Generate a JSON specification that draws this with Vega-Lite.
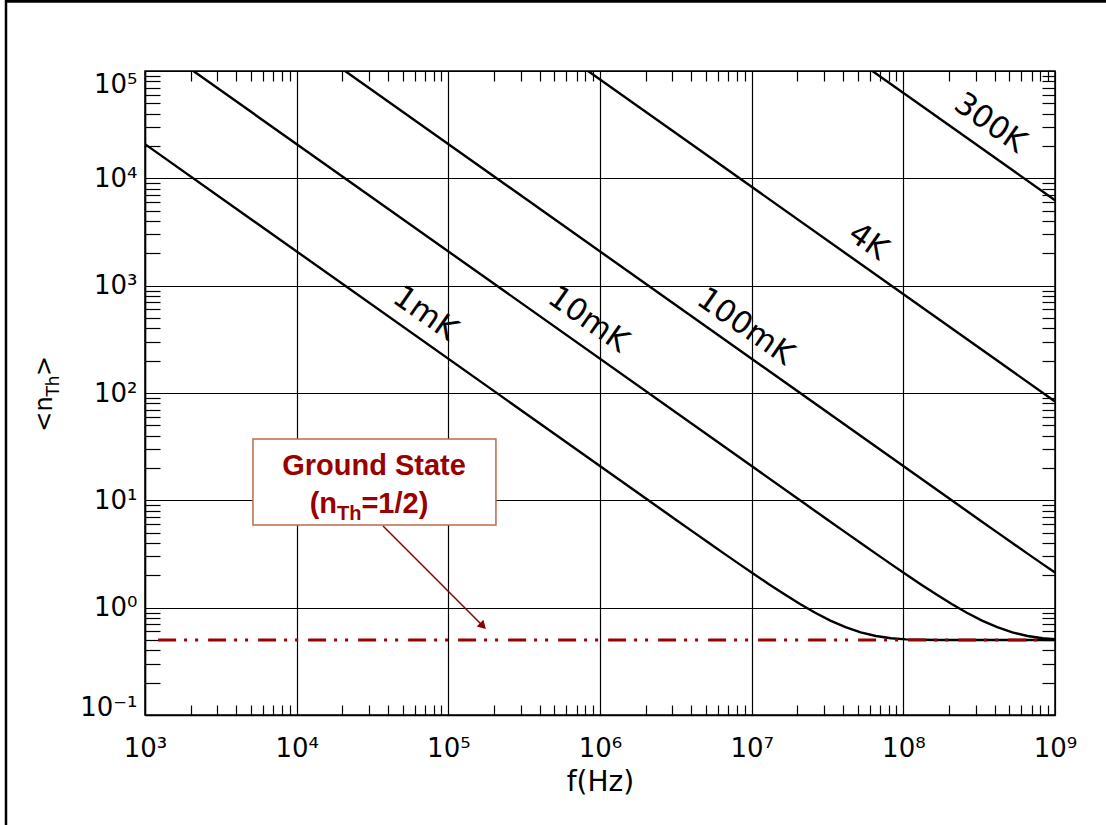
{
 "$schema": "https://vega.github.io/schema/vega-lite/v6.json",
 "width": 910,
 "height": 644,
 "autosize": {"type": "none"},
 "padding": {"left": 145, "top": 71, "right": 51, "bottom": 110},
 "background": "white",
 "config": {
  "view": {"stroke": "black", "strokeWidth": 1.5},
  "axis": {"domainColor": "black", "domainWidth": 1.5, "tickColor": "black", "tickWidth": 1.2, "gridColor": "black", "gridWidth": 1.2, "gridOpacity": 1, "labelColor": "black", "labelFont": "DejaVu Sans", "labelFontSize": 26, "labelFontWeight": "normal", "titleColor": "black", "titleFont": "DejaVu Sans", "titleFontWeight": "normal"}
 },
 "datasets": {
  "curves": [
   {"T": "1mK", "f": 1000, "n": 20837},
   {"T": "1mK", "f": 2083700, "n": 10.008},
   {"T": "1mK", "f": 2623200, "n": 7.954},
   {"T": "1mK", "f": 3302400, "n": 6.323},
   {"T": "1mK", "f": 4157500, "n": 5.0285},
   {"T": "1mK", "f": 5234000, "n": 4.002},
   {"T": "1mK", "f": 6589200, "n": 3.1886},
   {"T": "1mK", "f": 8295300, "n": 2.545},
   {"T": "1mK", "f": 10443200, "n": 2.0369},
   {"T": "1mK", "f": 13147200, "n": 1.6371},
   {"T": "1mK", "f": 16551400, "n": 1.3244},
   {"T": "1mK", "f": 20837000, "n": 1.082},
   {"T": "1mK", "f": 26232200, "n": 0.8966},
   {"T": "1mK", "f": 33024500, "n": 0.7578},
   {"T": "1mK", "f": 41575300, "n": 0.6574},
   {"T": "1mK", "f": 52340200, "n": 0.5883},
   {"T": "1mK", "f": 65892400, "n": 0.5442},
   {"T": "1mK", "f": 82953600, "n": 0.519},
   {"T": "1mK", "f": 104432000, "n": 0.5067},
   {"T": "1mK", "f": 131472000, "n": 0.5018},
   {"T": "1mK", "f": 165514000, "n": 0.5004},
   {"T": "1mK", "f": 208370000, "n": 0.50005},
   {"T": "1mK", "f": 1000000000, "n": 0.5},
   {"T": "10mK", "f": 1000, "n": 208370},
   {"T": "10mK", "f": 20837000, "n": 10.008},
   {"T": "10mK", "f": 26232000, "n": 7.954},
   {"T": "10mK", "f": 33024000, "n": 6.323},
   {"T": "10mK", "f": 41575000, "n": 5.0285},
   {"T": "10mK", "f": 52340000, "n": 4.002},
   {"T": "10mK", "f": 65892000, "n": 3.1886},
   {"T": "10mK", "f": 82953000, "n": 2.545},
   {"T": "10mK", "f": 104432000, "n": 2.0369},
   {"T": "10mK", "f": 131472000, "n": 1.6371},
   {"T": "10mK", "f": 165514000, "n": 1.3244},
   {"T": "10mK", "f": 208370000, "n": 1.082},
   {"T": "10mK", "f": 262322000, "n": 0.8966},
   {"T": "10mK", "f": 330245000, "n": 0.7578},
   {"T": "10mK", "f": 415753000, "n": 0.6574},
   {"T": "10mK", "f": 523402000, "n": 0.5883},
   {"T": "10mK", "f": 658924000, "n": 0.5442},
   {"T": "10mK", "f": 829536000, "n": 0.519},
   {"T": "10mK", "f": 1000000000, "n": 0.5083},
   {"T": "100mK", "f": 1000, "n": 2083700},
   {"T": "100mK", "f": 208370000, "n": 10.008},
   {"T": "100mK", "f": 262320000, "n": 7.954},
   {"T": "100mK", "f": 330240000, "n": 6.323},
   {"T": "100mK", "f": 415750000, "n": 5.0285},
   {"T": "100mK", "f": 523400000, "n": 4.002},
   {"T": "100mK", "f": 658920000, "n": 3.1886},
   {"T": "100mK", "f": 829530000, "n": 2.545},
   {"T": "100mK", "f": 1000000000, "n": 2.1237},
   {"T": "4K", "f": 1000, "n": 83348000},
   {"T": "4K", "f": 1000000000, "n": 83.35},
   {"T": "300K", "f": 1000, "n": 6251100000},
   {"T": "300K", "f": 1000000000, "n": 6251.1}
  ],
  "labels": [
   {"label": "1mK", "f": 70200, "n": 544},
   {"label": "10mK", "f": 834000, "n": 479},
   {"label": "100mK", "f": 9040000, "n": 412},
   {"label": "4K", "f": 58500000, "n": 2552},
   {"label": "300K", "f": 372000000, "n": 32400}
  ],
  "ground": [
   {"f": 1220, "n": 0.5},
   {"f": 830000000, "n": 0.5}
  ]
 },
 "resolve": {"axis": {"x": "independent", "y": "independent"}},
 "layer": [
  {
   "data": {"name": "curves"},
   "mark": {"type": "line", "clip": true, "color": "black", "strokeWidth": 2.4},
   "encoding": {
    "x": {"field": "f", "type": "quantitative", "scale": {"type": "log", "domain": [1000, 1000000000]},
     "axis": {"orient": "bottom", "values": [1000, 10000, 100000, 1000000, 10000000, 100000000, 1000000000], "grid": true, "ticks": false, "domain": true,
      "labelExpr": "'10' + (datum.value < 0.5 ? '⁻¹' : substring('⁰¹²³⁴⁵⁶⁷⁸⁹', round(log(datum.value)/LN10), round(log(datum.value)/LN10)+1))",
      "labelPadding": 20, "labelFlush": false, "labelOverlap": false, "labelBaseline": "top", "labelAlign": "center",
      "title": "f(Hz)", "titleFontSize": 28, "titlePadding": 7}},
    "y": {"field": "n", "type": "quantitative", "scale": {"type": "log", "domain": [0.1, 100000]},
     "axis": {"orient": "left", "values": [0.1, 1, 10, 100, 1000, 10000, 100000], "grid": true, "ticks": false, "domain": true,
      "labelExpr": "'10' + (datum.value < 0.5 ? '⁻¹' : substring('⁰¹²³⁴⁵⁶⁷⁸⁹', round(log(datum.value)/LN10), round(log(datum.value)/LN10)+1))",
      "labelPadding": 8, "labelFlush": false, "labelOverlap": false, "labelAlign": "right",
      "labelBaseline": {"condition": [{"test": "datum.value > 50000", "value": "top"}, {"test": "datum.value < 0.5", "value": "alphabetic"}], "value": "middle"},
      "title": null}},
    "detail": {"field": "T"}
   }
  },
  {
   "data": {"name": "ground"},
   "mark": {"type": "line", "color": "#990000", "strokeWidth": 3, "strokeDash": [18, 8, 3, 8, 3, 10]},
   "encoding": {
    "x": {"field": "f", "type": "quantitative", "scale": {"type": "log", "domain": [1000, 1000000000]},
     "axis": {"orient": "bottom", "values": [2e3,3e3,4e3,5e3,6e3,7e3,8e3,9e3,2e4,3e4,4e4,5e4,6e4,7e4,8e4,9e4,2e5,3e5,4e5,5e5,6e5,7e5,8e5,9e5,2e6,3e6,4e6,5e6,6e6,7e6,8e6,9e6,2e7,3e7,4e7,5e7,6e7,7e7,8e7,9e7,2e8,3e8,4e8,5e8,6e8,7e8,8e8,9e8], "labels": false, "grid": false, "domain": false, "ticks": true, "tickSize": -10, "title": null}},
    "y": {"field": "n", "type": "quantitative", "scale": {"type": "log", "domain": [0.1, 100000]},
     "axis": {"orient": "left", "values": [0.2,0.3,0.4,0.5,0.6,0.7,0.8,0.9,2,3,4,5,6,7,8,9,20,30,40,50,60,70,80,90,200,300,400,500,600,700,800,900,2000,3000,4000,5000,6000,7000,8000,9000,20000,30000,40000,50000,60000,70000,80000,90000], "labels": false, "grid": false, "domain": false, "ticks": true, "tickSize": -15, "title": null}}
   }
  },
  {
   "data": {"name": "labels"},
   "mark": {"type": "text", "angle": 35, "font": "DejaVu Sans", "fontWeight": "normal", "fontSize": 31, "align": "center", "baseline": "middle", "color": "black"},
   "encoding": {
    "x": {"field": "f", "type": "quantitative", "scale": {"type": "log", "domain": [1000, 1000000000]},
     "axis": {"orient": "top", "values": [2e3,3e3,4e3,5e3,6e3,7e3,8e3,9e3,2e4,3e4,4e4,5e4,6e4,7e4,8e4,9e4,2e5,3e5,4e5,5e5,6e5,7e5,8e5,9e5,2e6,3e6,4e6,5e6,6e6,7e6,8e6,9e6,2e7,3e7,4e7,5e7,6e7,7e7,8e7,9e7,2e8,3e8,4e8,5e8,6e8,7e8,8e8,9e8], "labels": false, "grid": false, "domain": false, "ticks": true, "tickSize": -10, "title": null}},
    "y": {"field": "n", "type": "quantitative", "scale": {"type": "log", "domain": [0.1, 100000]},
     "axis": {"orient": "right", "values": [0.2,0.3,0.4,0.5,0.6,0.7,0.8,0.9,2,3,4,5,6,7,8,9,20,30,40,50,60,70,80,90,200,300,400,500,600,700,800,900,2000,3000,4000,5000,6000,7000,8000,9000,20000,30000,40000,50000,60000,70000,80000,90000], "labels": false, "grid": false, "domain": false, "ticks": true, "tickSize": -13, "title": null}},
    "text": {"field": "label"}
   }
  },
  {
   "data": {"values": [{}]},
   "mark": {"type": "rect", "fill": "white", "stroke": "#b86b4b", "strokeWidth": 1.5},
   "encoding": {
    "x": {"datum": 5150, "type": "quantitative", "scale": {"type": "log", "domain": [1000, 1000000000]}, "axis": null},
    "x2": {"datum": 206000},
    "y": {"datum": 37.3, "type": "quantitative", "scale": {"type": "log", "domain": [0.1, 100000]}, "axis": null},
    "y2": {"datum": 5.89}
   }
  },
  {
   "data": {"values": [{}]},
   "mark": {"type": "text", "text": "Ground State", "font": "Liberation Sans", "fontWeight": "bold", "fontSize": 29, "color": "#990000", "align": "center", "baseline": "alphabetic"},
   "encoding": {
    "x": {"datum": 32360, "type": "quantitative", "scale": {"type": "log", "domain": [1000, 1000000000]}, "axis": null},
    "y": {"datum": 17.2, "type": "quantitative", "scale": {"type": "log", "domain": [0.1, 100000]}, "axis": null}
   }
  },
  {
   "data": {"values": [{}]},
   "mark": {"type": "text", "text": "(n", "font": "Liberation Sans", "fontWeight": "bold", "fontSize": 29, "color": "#990000", "align": "right", "baseline": "alphabetic"},
   "encoding": {
    "x": {"datum": 18450, "type": "quantitative", "scale": {"type": "log", "domain": [1000, 1000000000]}, "axis": null},
    "y": {"datum": 7.62, "type": "quantitative", "scale": {"type": "log", "domain": [0.1, 100000]}, "axis": null}
   }
  },
  {
   "data": {"values": [{}]},
   "mark": {"type": "text", "text": "Th", "font": "Liberation Sans", "fontWeight": "bold", "fontSize": 20, "color": "#990000", "align": "left", "baseline": "alphabetic"},
   "encoding": {
    "x": {"datum": 18450, "type": "quantitative", "scale": {"type": "log", "domain": [1000, 1000000000]}, "axis": null},
    "y": {"datum": 6.56, "type": "quantitative", "scale": {"type": "log", "domain": [0.1, 100000]}, "axis": null}
   }
  },
  {
   "data": {"values": [{}]},
   "mark": {"type": "text", "text": "=1/2)", "font": "Liberation Sans", "fontWeight": "bold", "fontSize": 29, "color": "#990000", "align": "left", "baseline": "alphabetic"},
   "encoding": {
    "x": {"datum": 26720, "type": "quantitative", "scale": {"type": "log", "domain": [1000, 1000000000]}, "axis": null},
    "y": {"datum": 7.62, "type": "quantitative", "scale": {"type": "log", "domain": [0.1, 100000]}, "axis": null}
   }
  },
  {
   "data": {"values": [{}]},
   "mark": {"type": "rule", "color": "#8b0000", "strokeWidth": 1.5},
   "encoding": {
    "x": {"datum": 37100, "type": "quantitative", "scale": {"type": "log", "domain": [1000, 1000000000]}, "axis": null},
    "x2": {"datum": 166700},
    "y": {"datum": 5.77, "type": "quantitative", "scale": {"type": "log", "domain": [0.1, 100000]}, "axis": null},
    "y2": {"datum": 0.689}
   }
  },
  {
   "data": {"values": [{}]},
   "mark": {"type": "point", "shape": "triangle", "angle": 135, "filled": true, "color": "#8b0000", "opacity": 1, "size": 90},
   "encoding": {
    "x": {"datum": 166700, "type": "quantitative", "scale": {"type": "log", "domain": [1000, 1000000000]}, "axis": null},
    "y": {"datum": 0.689, "type": "quantitative", "scale": {"type": "log", "domain": [0.1, 100000]}, "axis": null}
   }
  },
  {
   "data": {"values": [{}]},
   "mark": {"type": "text", "text": "<n", "angle": 270, "font": "DejaVu Sans", "fontWeight": "normal", "fontSize": 24, "color": "black", "align": "center", "baseline": "alphabetic"},
   "encoding": {
    "x": {"datum": 243.8, "type": "quantitative", "scale": {"type": "log", "domain": [1000, 1000000000]}, "axis": null},
    "y": {"datum": 63.7, "type": "quantitative", "scale": {"type": "log", "domain": [0.1, 100000]}, "axis": null}
   }
  },
  {
   "data": {"values": [{}]},
   "mark": {"type": "text", "text": "Th", "angle": 270, "font": "DejaVu Sans", "fontWeight": "normal", "fontSize": 17, "color": "black", "align": "center", "baseline": "alphabetic"},
   "encoding": {
    "x": {"datum": 271, "type": "quantitative", "scale": {"type": "log", "domain": [1000, 1000000000]}, "axis": null},
    "y": {"datum": 116.2, "type": "quantitative", "scale": {"type": "log", "domain": [0.1, 100000]}, "axis": null}
   }
  },
  {
   "data": {"values": [{}]},
   "mark": {"type": "text", "text": ">", "angle": 270, "font": "DejaVu Sans", "fontWeight": "normal", "fontSize": 24, "color": "black", "align": "center", "baseline": "alphabetic"},
   "encoding": {
    "x": {"datum": 243.8, "type": "quantitative", "scale": {"type": "log", "domain": [1000, 1000000000]}, "axis": null},
    "y": {"datum": 178.4, "type": "quantitative", "scale": {"type": "log", "domain": [0.1, 100000]}, "axis": null}
   }
  },
  {
   "data": {"values": [{}]},
   "mark": {"type": "rule", "color": "black", "strokeWidth": 3},
   "encoding": {
    "x": {"datum": 121, "type": "quantitative", "scale": {"type": "log", "domain": [1000, 1000000000]}, "axis": null},
    "x2": {"datum": 3000000000},
    "y": {"datum": 446000, "type": "quantitative", "scale": {"type": "log", "domain": [0.1, 100000]}, "axis": null}
   }
  },
  {
   "data": {"values": [{}]},
   "mark": {"type": "rule", "color": "black", "strokeWidth": 2.5},
   "encoding": {
    "x": {"datum": 121.2, "type": "quantitative", "scale": {"type": "log", "domain": [1000, 1000000000]}, "axis": null},
    "y": {"datum": 500000, "type": "quantitative", "scale": {"type": "log", "domain": [0.1, 100000]}, "axis": null},
    "y2": {"datum": 0.005}
   }
  }
 ]
}
